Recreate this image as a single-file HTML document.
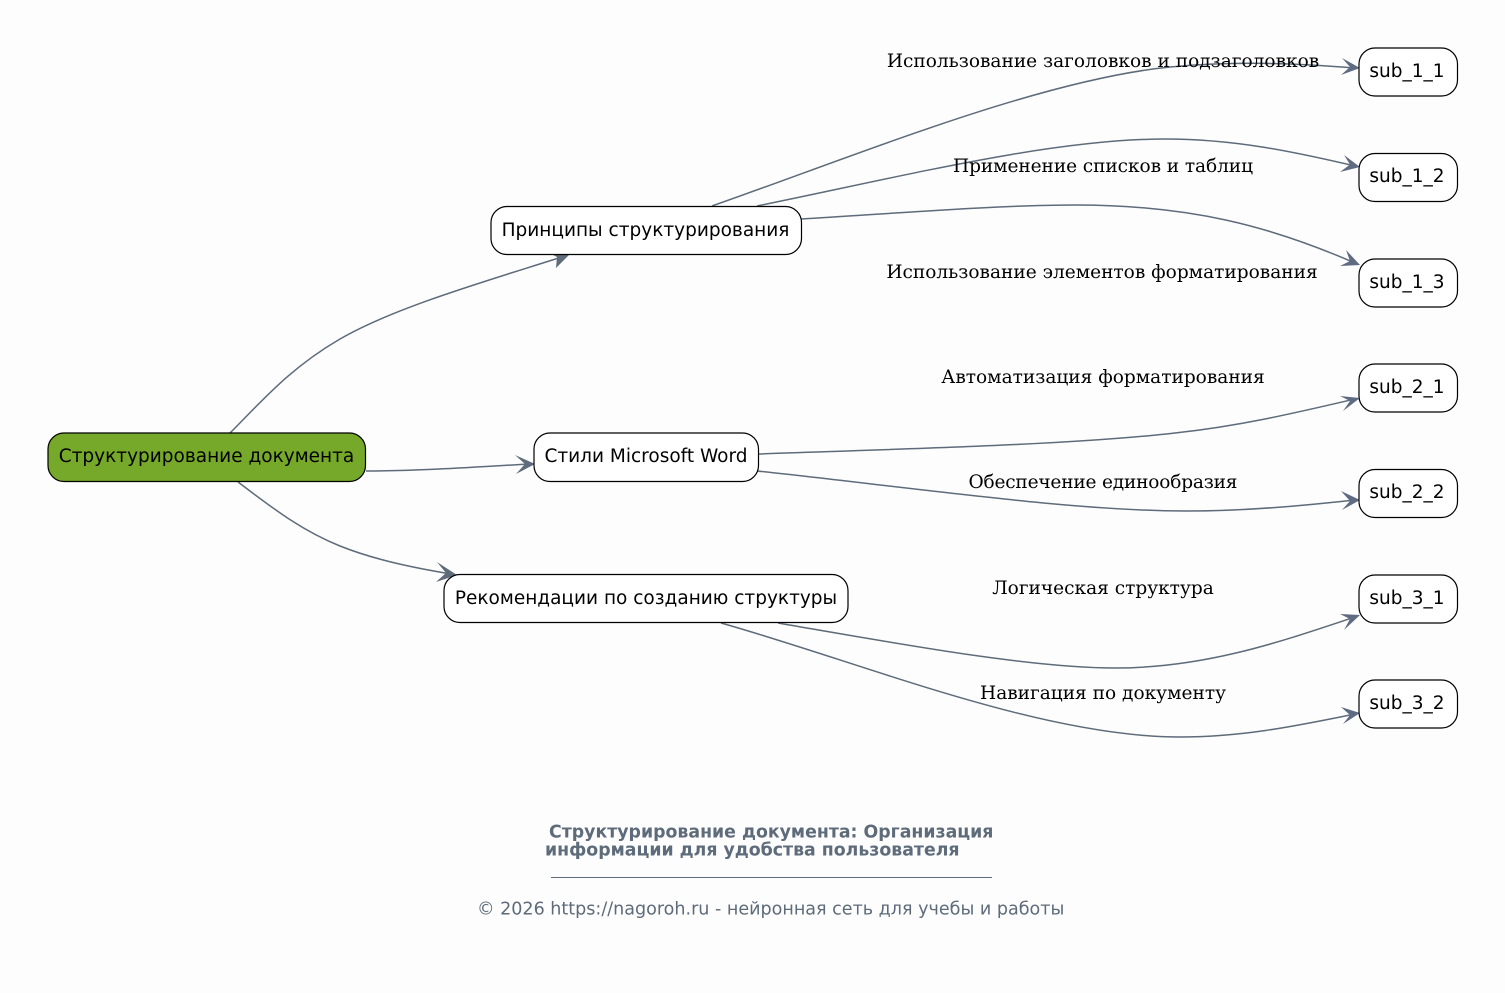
<!DOCTYPE html>
<html><head><meta charset="utf-8">
<style>
html,body{margin:0;padding:0;background:#fdfdfd}
svg{display:block}
.n{font-family:"DejaVu Sans",sans-serif;font-size:18.5px;fill:#000;text-anchor:middle}
.l{font-family:"DejaVu Serif",serif;font-size:18.55px;fill:#000;text-anchor:middle}
.e{fill:none;stroke:#5d6b7a;stroke-width:1.5}
.a{fill:#5f6b82;stroke:none}
.g{fill:#5d6b7a;stroke:none}
.b{fill:#fff;stroke:#000;stroke-width:1.2}
</style></head><body>
<svg width="1505" height="993" viewBox="0 0 1505 993" xmlns="http://www.w3.org/2000/svg">
<rect width="1505" height="993" fill="#fdfdfd"/>
<path class="e" d="M230 433C262 401 290 368 340 339C395 307 490 280 565 256"/>
<path class="e" d="M366 471C420 471 475 467 530 464"/>
<path class="e" d="M238 482C270 506 300 530 340 546C375 560 415 568 451 574"/>
<path class="e" d="M712 206C860 154 1040 80 1170 67C1235 61 1295 63 1355 68"/>
<path class="e" d="M757 206C900 177 1050 139 1165 139C1235 139 1295 152 1355 166"/>
<path class="e" d="M801 219C900 213 1000 205 1075 205C1190 205 1270 226 1355 263"/>
<path class="e" d="M758 454C900 449 1070 445 1175 433C1240 426 1295 413 1355 399"/>
<path class="e" d="M757 471C900 486 1070 511 1185 511C1245 511 1300 506 1355 500"/>
<path class="e" d="M778 623C900 644 1030 668 1115 668C1205 668 1280 642 1355 617"/>
<path class="e" d="M721 623C860 662 1040 737 1180 737C1245 737 1300 725 1355 714"/>
<path class="g" d="M570 254L547 252L557 257L556 268Z"/>
<path class="g" d="M535 464L515 455L525 464L516 474Z"/>
<path class="g" d="M457 575L437 562L446 573L436 582Z"/>
<path class="a" d="M1360 68L1342 58L1350 67L1341 75Z"/>
<path class="a" d="M1360 167L1344 155L1350 164.500L1340 172Z"/>
<path class="a" d="M1360 265L1346 250L1350 261L1340 266Z"/>
<path class="a" d="M1360 398L1340 396L1350 401L1343 411Z"/>
<path class="a" d="M1360 500L1341 491L1350 501L1342 510Z"/>
<path class="a" d="M1360 615L1340 614L1350 619L1344 630Z"/>
<path class="a" d="M1360 713L1341 707L1350 715L1343 724Z"/>
<rect x="48" y="433" width="317.500" height="48.500" rx="16" fill="#76a82a" stroke="#000" stroke-width="1.2"/>
<text class="n" x="206.500" y="462">Структурирование документа</text>
<rect class="b" x="491" y="206.500" width="310.500" height="48" rx="16"/>
<text class="n" x="645.500" y="236">Принципы структурирования</text>
<rect class="b" x="534" y="433" width="224.500" height="48.500" rx="16"/>
<text class="n" x="646" y="462">Стили Microsoft Word</text>
<rect class="b" x="444" y="574.500" width="404" height="48" rx="16"/>
<text class="n" x="646" y="604">Рекомендации по созданию структуры</text>
<rect class="b" x="1359" y="48" width="98.500" height="48" rx="16"/>
<text class="n" x="1407" y="77">sub_1_1</text>
<rect class="b" x="1359" y="153.500" width="98.500" height="48" rx="16"/>
<text class="n" x="1407" y="182">sub_1_2</text>
<rect class="b" x="1359" y="259" width="98.500" height="48" rx="16"/>
<text class="n" x="1407" y="288">sub_1_3</text>
<rect class="b" x="1359" y="364" width="98.500" height="48" rx="16"/>
<text class="n" x="1407" y="393">sub_2_1</text>
<rect class="b" x="1359" y="469.500" width="98.500" height="48" rx="16"/>
<text class="n" x="1407" y="498">sub_2_2</text>
<rect class="b" x="1359" y="575" width="98.500" height="48" rx="16"/>
<text class="n" x="1407" y="604">sub_3_1</text>
<rect class="b" x="1359" y="680" width="98.500" height="48" rx="16"/>
<text class="n" x="1407" y="709">sub_3_2</text>
<text class="l" x="1103" y="67">Использование заголовков и подзаголовков</text>
<text class="l" x="1103" y="172" textLength="300">Применение списков и таблиц</text>
<text class="l" x="1102" y="278">Использование элементов форматирования</text>
<text class="l" x="1103" y="383">Автоматизация форматирования</text>
<text class="l" x="1103" y="488" textLength="269">Обеспечение единообразия</text>
<text class="l" x="1103" y="594">Логическая структура</text>
<text class="l" x="1103" y="699">Навигация по документу</text>
<text x="549" y="837.500" font-family="DejaVu Sans, sans-serif" font-size="17.33px" font-weight="700" fill="#5d6b7a">Структурирование документа: Организация</text>
<text x="545" y="855.500" font-family="DejaVu Sans, sans-serif" font-size="17.33px" font-weight="700" fill="#5d6b7a">информации для удобства пользователя</text>
<line x1="551" y1="877.500" x2="992" y2="877.500" stroke="#5d6b7a" stroke-width="1"/>
<text x="477" y="914.500" font-family="DejaVu Sans, sans-serif" font-size="17.55px" fill="#5d6b7a">© 2026 https://nagoroh.ru - нейронная сеть для учебы и работы</text>
</svg>
</body></html>
